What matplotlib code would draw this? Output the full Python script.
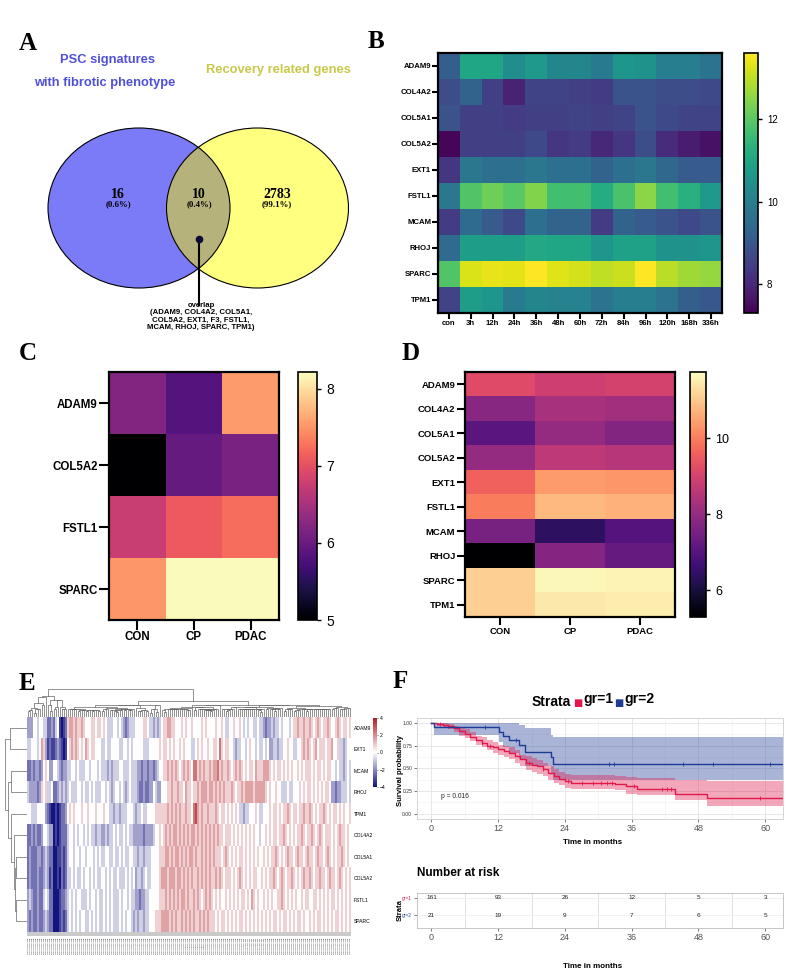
import numpy as np
import matplotlib
matplotlib.use("Agg")
import matplotlib.pyplot as plt
from matplotlib.patches import Ellipse
from matplotlib.colors import LinearSegmentedColormap

plt.rcParams['font.family'] = ['Liberation Sans', 'DejaVu Sans']
W, H = 787, 969

# ---------------- data ----------------
# A: Venn
venn_counts = ["16", "10", "2783"]
venn_pcts = ["(0.6%)", "(0.4%)", "(99.1%)"]
overlap_text = "overlap\n(ADAM9, COL4A2, COL5A1,\nCOL5A2, EXT1, F3, FSTL1,\nMCAM, RHOJ, SPARC, TPM1)"

# B: time course heatmap
b_genes = ["ADAM9", "COL4A2", "COL5A1", "COL5A2", "EXT1", "FSTL1", "MCAM", "RHOJ", "SPARC", "TPM1"]
b_times = ["con", "3h", "12h", "24h", "36h", "48h", "60h", "72h", "84h", "96h", "120h", "168h", "336h"]
b_values = [
    [9.2, 11.0, 11.0, 10.4, 10.7, 10.2, 10.2, 9.9, 10.6, 10.5, 10.0, 10.0, 9.7],
    [8.8, 9.3, 8.5, 7.9, 8.6, 8.6, 8.5, 8.4, 8.9, 8.9, 8.8, 8.8, 8.7],
    [8.9, 8.5, 8.5, 8.4, 8.5, 8.5, 8.6, 8.5, 8.6, 8.9, 8.7, 8.6, 8.6],
    [7.4, 8.5, 8.5, 8.5, 8.7, 8.3, 8.4, 8.0, 8.3, 8.8, 8.1, 7.8, 7.6],
    [8.3, 9.8, 9.6, 9.6, 9.8, 9.6, 9.6, 9.3, 9.6, 9.8, 9.4, 9.1, 9.1],
    [9.8, 11.9, 12.2, 12.0, 12.4, 11.7, 11.7, 11.2, 11.8, 12.5, 11.7, 11.3, 10.7],
    [8.4, 9.5, 9.1, 8.7, 9.6, 9.3, 9.3, 8.4, 9.3, 9.1, 8.9, 8.7, 8.9],
    [9.5, 10.8, 10.8, 10.8, 11.1, 11.0, 11.0, 10.6, 10.9, 10.9, 10.5, 10.5, 10.6],
    [11.9, 13.25, 13.4, 13.35, 13.6, 13.3, 13.2, 13.0, 13.1, 13.6, 12.95, 12.7, 12.6],
    [8.6, 10.8, 10.6, 9.9, 10.2, 10.1, 10.1, 9.7, 10.0, 10.0, 9.7, 9.2, 9.0],
]

# C
c_genes = ["ADAM9", "COL5A2", "FSTL1", "SPARC"]
c_groups = ["CON", "CP", "PDAC"]
c_values = [
    [6.2, 5.85, 7.55],
    [5.0, 5.98, 6.15],
    [6.76, 7.1, 7.25],
    [7.52, 8.2, 8.2],
]

# D
d_genes = ["ADAM9", "COL4A2", "COL5A1", "COL5A2", "EXT1", "FSTL1", "MCAM", "RHOJ", "SPARC", "TPM1"]
d_groups = ["CON", "CP", "PDAC"]
d_values = [
    [9.2, 8.9, 9.0],
    [7.8, 8.3, 8.2],
    [7.1, 8.0, 7.7],
    [8.0, 8.65, 8.5],
    [9.6, 10.4, 10.35],
    [10.0, 10.8, 10.7],
    [7.55, 6.4, 7.0],
    [5.3, 7.75, 7.25],
    [11.1, 11.65, 11.6],
    [11.1, 11.45, 11.5],
]

# E: z-scores, one digit per sample, value = (digit - 5) * 0.8
e_genes = ["ADAM9", "EXT1", "MCAM", "RHOJ", "TPM1", "COL4A2", "COL5A1", "COL5A2", "FSTL1", "SPARC"]
e_rows = [
    "33355455442232451012" "677676676555665665654445" "545432344455556654434345" "667766555656556555565655"
    "556556544556556545455445" "443233434454555456676676" "6765676566765567656656",
    "44555457631211232101" "567676565765665554454455" "554455454555554445555565" "665656556565554456565565"
    "566586566554344554565545" "445453344344556554455676" "7656756665667556443455",
    "22323323565335543233" "445545444554555454443434" "445544454443323323323455" "667676765676765886767667"
    "677867667656767656566576" "667776565665656565565656" "6656566565665545443454",
    "43333236564452234343" "454445545445454445545434" "554543454443223223354335" "556676676657665667677767"
    "767676766676566767777677" "777656556554445445556565" "6656565656653323344454",
    "55444555532100101223" "565655565565556555655443" "443444555434454455556666" "667676767667665897676676"
    "667656656565654434455565" "445556566565667656656676" "6765656676565665656556",
    "22323223554330101222" "455454554545443443343445" "454454544333332333345565" "676767767676767767676767"
    "676766566656565656565655" "455656566566765656566765" "6676567656665656766565",
    "23222332343220011212" "455455455455545454455445" "445454455443443444555566" "677676776767677676676767"
    "676665676565656656565656" "556565667656567665676656" "7665676656765656676565",
    "23222322343120010212" "445454454554545445545454" "454445454534434544555567" "776777677676767667676767"
    "667676566656567656565665" "565656676567656676565676" "6765667665676656765656",
    "34322322454220001223" "454545544454554544545454" "445455454433233445555566" "676767676776766767656767"
    "656565565656565665657656" "556565655667656565655656" "6556656565656656565656",
    "32322322343220001212" "454545455445454544545454" "445454554343443445556667" "777676766767676766767676"
    "665656656565656656565656" "565656566565665656566565" "5656566565656566565656",
]

# F: Kaplan-Meier
km1_time = [0, 1, 2, 3, 4, 5, 6, 7, 8, 9, 10, 11, 12, 13, 14, 15, 16, 17, 18, 19, 20,
            21, 22, 23, 24, 25, 33, 35, 37, 43.8, 49.5]
km1_surv = [1.0, 0.99, 0.98, 0.965, 0.94, 0.91, 0.88, 0.85, 0.81, 0.78, 0.75, 0.73, 0.71,
            0.69, 0.67, 0.64, 0.60, 0.56, 0.54, 0.52, 0.49, 0.45, 0.42, 0.38, 0.355, 0.34,
            0.33, 0.30, 0.275, 0.215, 0.17]
km1_lower = [1.0, 0.97, 0.95, 0.93, 0.90, 0.86, 0.83, 0.80, 0.76, 0.73, 0.70, 0.67, 0.65,
             0.62, 0.60, 0.56, 0.52, 0.48, 0.46, 0.44, 0.41, 0.37, 0.34, 0.31, 0.28, 0.27,
             0.255, 0.22, 0.20, 0.15, 0.085]
km1_upper = [1.0, 1.0, 1.0, 0.99, 0.97, 0.95, 0.93, 0.90, 0.86, 0.84, 0.81, 0.79, 0.76,
             0.75, 0.73, 0.70, 0.65, 0.63, 0.61, 0.59, 0.56, 0.53, 0.49, 0.46, 0.44, 0.43,
             0.42, 0.40, 0.39, 0.37, 0.36]
km1_censor = [1.5, 3, 9, 10.5, 17.5, 20, 24.5, 27, 29, 30.5, 31.5, 32.5, 36.5, 41.5, 42.3, 43, 59]

km2_time = [0, 0.5, 12.1, 12.8, 13.9, 15.7, 16.9, 21.5, 21.9]
km2_surv = [1.0, 0.952, 0.905, 0.857, 0.81, 0.76, 0.68, 0.62, 0.55]
km2_lower = [1.0, 0.87, 0.79, 0.73, 0.67, 0.60, 0.52, 0.45, 0.37]
km2_upper = [1.0, 1.0, 1.0, 1.0, 1.0, 0.98, 0.94, 0.87, 0.85]
km2_censor = [9.7, 15.2, 32, 32.9, 45.2, 50.6, 60.8]

risk_times = [0, 12, 24, 36, 48, 60]
risk_gr1 = [161, 93, 26, 12, 5, 3]
risk_gr2 = [21, 19, 9, 7, 6, 5]
p_value = "p = 0.016"

# ---------------- figure ----------------
fig = plt.figure(figsize=(W / 100, H / 100), dpi=100)


def px_axes(x0, y0, x1, y1):
    return fig.add_axes([x0 / W, 1 - y1 / H, (x1 - x0) / W, (y1 - y0) / H])


def ftext(x, y, s, **kw):
    fig.text(x / W, 1 - y / H, s, **kw)


for lab, (x, y) in zip("ABCDEF", [(28, 43), (376, 42), (28, 354), (411, 354), (27, 683), (400, 682)]):
    ftext(x, y, lab, family='Liberation Serif', fontweight='bold', fontsize=18, ha='center', va='center')

# ---- A: Venn ----
ax = px_axes(0, 20, 390, 340)
ax.set_xlim(0, 390)
ax.set_ylim(340, 20)
ax.axis('off')
left = Ellipse((139, 208), 182, 160, fc='#7b7bf7', ec='none')
right = Ellipse((257.5, 208), 182, 160, fc='#ffff80', ec='none')
ax.add_patch(left)
ax.add_patch(right)
inter = Ellipse((139, 208), 182, 160, fc='#b5b27c', ec='none')
ax.add_patch(inter)
inter.set_clip_path(right)
for cx in (139, 257.5):
    ax.add_patch(Ellipse((cx, 208), 182, 160, fc='none', ec='black', lw=0.8))
for cx, n, p in zip([118, 199, 277], venn_counts, venn_pcts):
    ax.text(cx, 194, n, family='Liberation Serif', fontweight='bold', fontsize=10, ha='center', va='center')
    ax.text(cx, 204, p, family='Liberation Serif', fontweight='bold', fontsize=6.3, ha='center', va='center')
ax.text(107, 60, "PSC signatures", color='#4f4fd8', fontweight='bold', fontsize=9.3, ha='center', va='center')
ax.text(105, 83, "with fibrotic phenotype", color='#4f4fd8', fontweight='bold', fontsize=9.3, ha='center', va='center')
ax.text(278, 70, "Recovery related genes", color='#c9c84a', fontweight='bold', fontsize=9.3, ha='center', va='center')
ax.plot([199, 199], [239, 305], color='black', lw=1.5)
ax.plot(199, 239, 'o', color='#0b0b35', ms=4.5)
ax.text(201, 302, overlap_text, fontweight='bold', fontsize=5.6, ha='center', va='top', linespacing=1.05)


# ---- heatmap helper ----
def heat(box, cbox, vals, rows, cols, cmap, vmin, vmax, ticks, fs, fs_cb, tlen):
    axh = px_axes(*box)
    im = axh.imshow(np.array(vals), cmap=cmap, vmin=vmin, vmax=vmax, aspect='auto', interpolation='nearest')
    axh.set_xticks(range(len(cols)))
    axh.set_xticklabels(cols, fontsize=fs, fontweight='bold')
    axh.set_yticks(range(len(rows)))
    axh.set_yticklabels(rows, fontsize=fs, fontweight='bold')
    axh.tick_params(length=tlen, width=1.5, pad=1)
    for s in axh.spines.values():
        s.set_linewidth(1.6)
    cax = px_axes(*cbox)
    cb = fig.colorbar(im, cax=cax, ticks=ticks)
    cb.outline.set_linewidth(1.2)
    cax.tick_params(labelsize=fs_cb, length=3, width=1)
    return axh


heat((438, 53, 722, 313), (744, 53, 758, 313), b_values, b_genes, b_times, 'viridis',
     7.3, 13.6, [8, 10, 12], 5.6, 7, 4)
heat((109, 372, 279, 620), (298, 372, 317, 620), c_values, c_genes, c_groups, 'magma',
     5.0, 8.22, [5, 6, 7, 8], 8.3, 10, 7)
heat((465, 372, 675, 617), (690, 372, 706, 617), d_values, d_genes, d_groups, 'magma',
     5.3, 11.75, [6, 8, 10], 6.8, 9, 6)

# ---- E: clustered heatmap ----
E = np.array([[(int(c) - 5) * 0.8 for c in r] for r in e_rows])
ncol = E.shape[1]
bwr = LinearSegmentedColormap.from_list('bwr2', ['#14147f', '#ffffff', '#b01c24'])
axe = px_axes(27, 717, 351, 932)
im = axe.imshow(E, cmap=bwr, vmin=-4, vmax=4, aspect='auto', interpolation='nearest')
axe.yaxis.tick_right()
axe.set_yticks(range(len(e_genes)))
axe.set_yticklabels(e_genes, fontsize=3.6)
axe.set_xticks(range(ncol))
axe.set_xticklabels(["TCGA-S%03d-01A-11R" % (i + 1) for i in range(ncol)], fontsize=1.3,
                    rotation=90, color='black')
axe.tick_params(axis='y', length=0, pad=2)
axe.tick_params(axis='x', length=3, width=0.3, pad=0.5)
for s in axe.spines.values():
    s.set_visible(False)
cax = px_axes(373, 718, 377, 787)
cb = fig.colorbar(im, cax=cax, ticks=[-4, -2, 0, 2, 4])
cb.outline.set_visible(False)
cax.tick_params(labelsize=3.6, length=1, width=0.4, pad=1)


def ordered_tree(X):
    D = np.sqrt(((X[:, None, :] - X[None, :, :]) ** 2).sum(-1))
    members = [[i] for i in range(len(X))]
    xs = [float(i) for i in range(len(X))]
    hs = [0.0] * len(X)
    segs = []
    while len(members) > 1:
        dists = [D[np.ix_(members[k], members[k + 1])].mean() for k in range(len(members) - 1)]
        k = int(np.argmin(dists))
        h = max(dists[k], hs[k], hs[k + 1])
        segs.append(([xs[k], xs[k], xs[k + 1], xs[k + 1]], [hs[k], h, h, hs[k + 1]]))
        members[k] = members[k] + members.pop(k + 1)
        xs[k] = (xs[k] + xs.pop(k + 1)) / 2
        hs[k] = h
        hs.pop(k + 1)
    return segs, hs[0]


segs, top = ordered_tree(E.T)
axd = px_axes(27, 688, 351, 717)
for xx, yy in segs:
    axd.plot(xx, yy, color='#666666', lw=0.5)
axd.set_xlim(-0.5, ncol - 0.5)
axd.set_ylim(0, top * 1.03)
axd.axis('off')

segs, top = ordered_tree(E)
axr = px_axes(4, 717, 27, 932)
for xx, yy in segs:
    axr.plot(yy, xx, color='#666666', lw=0.5)
axr.set_ylim(len(e_genes) - 0.5, -0.5)
axr.set_xlim(top * 1.05, 0)
axr.axis('off')

# ---- F: Kaplan-Meier ----
red, blue = '#e2184a', '#1e3c96'
xmax = 63.2
axk = px_axes(417, 718, 783, 819)
axk.set_xlim(-2.6, xmax)
axk.set_ylim(-0.06, 1.055)
for t, s, lo, hi, cens, col in [(km2_time, km2_surv, km2_lower, km2_upper, km2_censor, blue),
                                  (km1_time, km1_surv, km1_lower, km1_upper, km1_censor, red)]:
    tt = t + [xmax]
    axk.fill_between(tt, lo + [lo[-1]], hi + [hi[-1]], step='post', color=col, alpha=0.38, lw=0)
for t, s, cens, col in [(km1_time, km1_surv, km1_censor, red), (km2_time, km2_surv, km2_censor, blue)]:
    tt = t + [xmax]
    axk.step(tt, s + [s[-1]], where='post', color=col, lw=1.0)
    idx = np.searchsorted(t, cens, side='right') - 1
    axk.plot(cens, np.array(s)[idx], '|', color=col, ms=2.5, mew=0.6)
axk.text(4.3, 0.19, p_value, fontsize=4.8, ha='center', va='center', color='#222222')
axk.set_xticks(risk_times)
axk.set_xticks([6, 18, 30, 42, 54], minor=True)
axk.set_yticks([0, 0.25, 0.5, 0.75, 1.0])
axk.set_yticks([0.125, 0.375, 0.625, 0.875], minor=True)
axk.set_yticklabels(["0.00", "0.25", "0.50", "0.75", "1.00"], fontsize=3.6, color='#333333')
axk.set_xticklabels([str(v) for v in risk_times], fontsize=6.5, color='#555555')
axk.grid(which='major', color='#e4e4e4', lw=0.6)
axk.grid(which='minor', color='#f0f0f0', lw=0.4)
axk.set_axisbelow(True)
axk.tick_params(which='major', length=2, width=0.5, color='#444444', pad=1.5)
axk.tick_params(which='minor', length=0)
for s in axk.spines.values():
    s.set_color('#cfcfcf')
    s.set_linewidth(0.6)
ftext(400, 770, "Survival probability", rotation=90, fontweight='bold', fontsize=5.5, ha='center', va='center')
ftext(593, 842, "Time in months", fontweight='bold', fontsize=5.8, ha='center', va='center')

ftext(551, 702, "Strata", fontweight='bold', fontsize=10, ha='center', va='center')
ftext(578, 703, "\u25a0", color=red, fontsize=7, ha='center', va='center', family='DejaVu Sans')
ftext(598, 699, "gr=1", fontweight='bold', fontsize=10, ha='center', va='center')
ftext(619, 703, "\u25a0", color=blue, fontsize=7, ha='center', va='center', family='DejaVu Sans')
ftext(639, 699, "gr=2", fontweight='bold', fontsize=10, ha='center', va='center')

# risk table
ftext(417, 873, "Number at risk", fontweight='bold', fontsize=8.5, ha='left', va='center')
axt = px_axes(417, 893, 783, 928)
axt.set_xlim(-2.6, xmax)
axt.set_ylim(0.26, 2.26)
for t, a, b in zip(risk_times, risk_gr1, risk_gr2):
    axt.text(t, 2, str(a), fontsize=4.6, ha='center', va='center', color='#222222')
    axt.text(t, 1, str(b), fontsize=4.6, ha='center', va='center', color='#222222')
axt.set_xticks(risk_times)
axt.set_xticklabels([str(v) for v in risk_times], fontsize=6.5, color='#555555')
axt.set_xticks([6, 18, 30, 42, 54], minor=True)
axt.set_yticks([2, 1])
axt.set_yticklabels(["gr=1", "gr=2"], fontsize=3.5)
for lbl, col in zip(axt.get_yticklabels(), [red, blue]):
    lbl.set_color(col)
axt.grid(which='minor', axis='x', color='#dcdcdc', lw=0.6)
axt.grid(which='major', axis='y', color='#eeeeee', lw=0.6)
axt.tick_params(which='major', length=2, width=0.5, color='#444444', pad=1.5)
axt.tick_params(which='minor', length=0)
for s in axt.spines.values():
    s.set_color('#bdbdbd')
    s.set_linewidth(0.6)
ftext(400, 910, "Strata", rotation=90, fontweight='bold', fontsize=5.5, ha='center', va='center')
ftext(593, 967, "Time in months", fontweight='bold', fontsize=5.8, ha='center', va='center')

fig.savefig("out.png", dpi=100)
